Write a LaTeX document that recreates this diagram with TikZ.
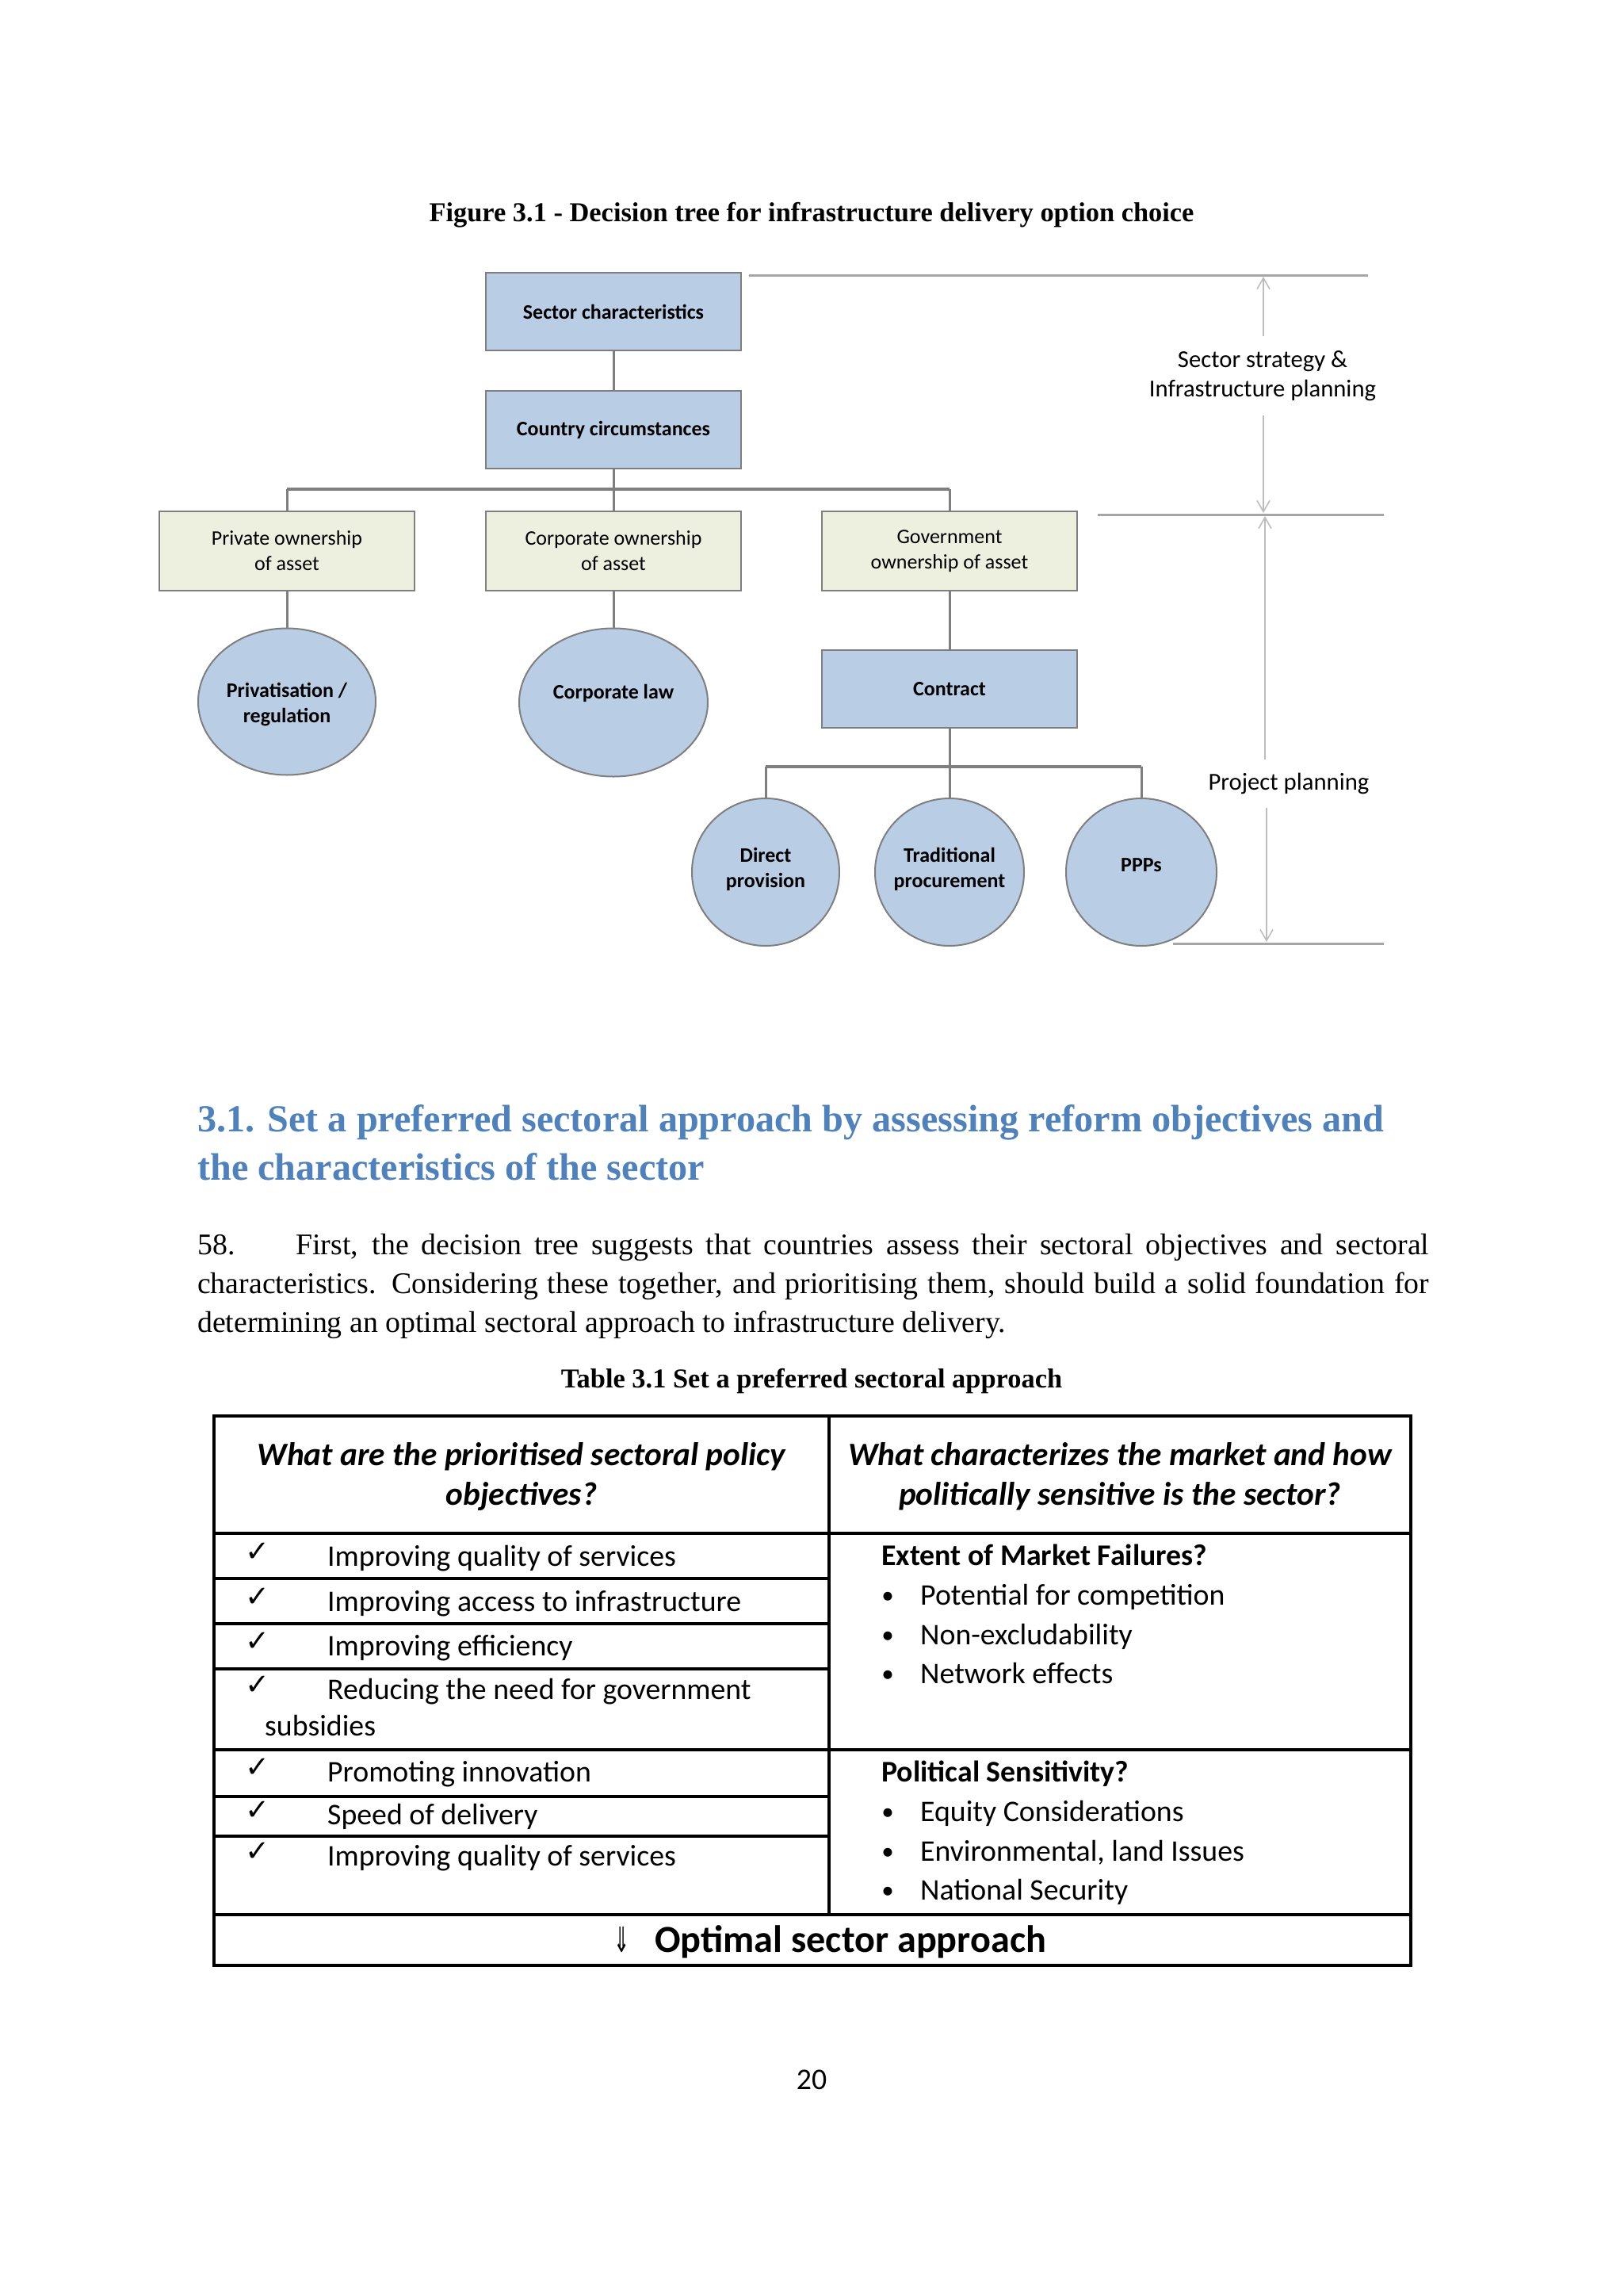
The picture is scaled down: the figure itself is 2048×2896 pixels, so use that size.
\documentclass[tikz,border=0pt]{standalone}
\usepackage{fontspec}
\usepackage{graphicx}
\setmainfont{Liberation Serif}
\newfontfamily\calfont{Carlito}
\newfontfamily\djfont{DejaVu Sans}
\usetikzlibrary{arrows.meta,shapes.geometric}
\definecolor{boxblue}{HTML}{B9CDE5}
\definecolor{boxgreen}{HTML}{EDEFDF}
\definecolor{edgegray}{HTML}{7F7F7F}
\definecolor{annogray}{HTML}{A6A6A6}
\definecolor{arrowgray}{HTML}{BDBDBD}
\definecolor{headblue}{HTML}{4F81BD}
\tikzset{
 treebox/.style={draw=edgegray, line width=2.5pt, minimum width=322pt, minimum height=98pt, inner sep=0pt, align=center, font=\calfont\fontsize{26}{32}\selectfont},
 bluebox/.style={treebox, fill=boxblue, font=\calfont\bfseries\fontsize{26}{32}\selectfont},
 greenbox/.style={treebox, fill=boxgreen, minimum height=100pt},
 oval/.style={ellipse, draw=edgegray, line width=2pt, fill=boxblue, inner sep=0pt},
 ovaltext/.style={font=\calfont\bfseries\fontsize{26}{32}\selectfont, align=center, inner sep=0pt},
 conn/.style={draw=edgegray, line width=3pt},
 treebar/.style={draw=edgegray, line width=4.5pt},
 annoline/.style={draw=annogray, line width=3pt},
 dimarrow/.style={draw=arrowgray, line width=1.6pt, -{Straight Barb[length=14pt,width=16pt]}},
 annotext/.style={font=\calfont\fontsize{30.7}{37}\selectfont, align=center, inner xsep=0pt},
 tline/.style={line width=4pt, draw=black},
 tcell/.style={font=\calfont\fontsize{37.8}{46}\selectfont, anchor=base west, inner sep=0pt},
 thead/.style={font=\calfont\bfseries\itshape\fontsize{41.3}{50}\selectfont, align=center, inner sep=0pt},
 tbold/.style={tcell, font=\calfont\bfseries\fontsize{37.8}{46}\selectfont},
 tcheck/.style={anchor=base west, inner sep=0pt, font=\djfont\fontsize{37}{42}\selectfont},
 tbullet/.style={anchor=base, inner sep=0pt, font=\calfont\fontsize{31}{36}\selectfont},
 bodytext/.style={font=\fontsize{37.8}{46}\selectfont, anchor=base west, inner sep=0pt},
 headtext/.style={font=\bfseries\fontsize{48.2}{59}\selectfont, text=headblue, anchor=base west, inner sep=0pt},
 captext/.style={font=\bfseries\fontsize{34.4}{40}\selectfont, anchor=base, inner sep=0pt}
}
\begin{document}
\begin{tikzpicture}[x=1pt,y=-1pt]
\useasboundingbox[fill=white] (0,0) rectangle (2048,2896);

% title
\node[captext] (title) at (1024,279) {Figure 3.1 - Decision tree for infrastructure delivery option choice};

% tree nodes
\node[bluebox] (sc) at (774,393) {Sector characteristics};
\node[bluebox] (cc) at (774,542) {Country circumstances};
\node[greenbox] (po) at (362,695) {Private ownership\\of asset};
\node[greenbox] (co) at (774,695) {Corporate ownership\\of asset};
\node[greenbox] (go) at (1198,695) {Government\\ownership of asset};
\node[oval, minimum width=224pt, minimum height=185pt, label={[ovaltext, yshift=-4pt]center:Privatisation /\\regulation}] (pr) at (362,885) {};
\node[oval, minimum width=238pt, minimum height=187pt, label={[ovaltext, yshift=12pt]center:Corporate law}] (cl) at (774,886) {};
\node[bluebox] (ct) at (1198,869) {Contract};
\node[oval, minimum width=186pt, minimum height=186pt, label={[ovaltext, yshift=4pt]center:Direct\\provision}] (dp) at (966,1100) {};
\node[oval, minimum width=188pt, minimum height=186pt, label={[ovaltext, yshift=4pt]center:Traditional\\procurement}] (tp) at (1198,1100) {};
\node[oval, minimum width=190pt, minimum height=186pt, label={[ovaltext, yshift=9pt]center:PPPs}] (pp) at (1440,1100) {};

% tree connectors
\coordinate (b1) at (0,617);
\coordinate (b2) at (0,967);
\draw[conn] (sc.south) -- (cc.north);
\draw[conn] (cc.south) -- (co.north);
\draw[treebar] (po.north |- b1) -- (go.north |- b1);
\draw[conn] (po.north |- b1) -- (po.north);
\draw[conn] (go.north |- b1) -- (go.north);
\draw[conn] (po.south) -- (pr.north);
\draw[conn] (co.south) -- (cl.north);
\draw[conn] (go.south) -- (ct.north);
\draw[conn] (ct.south) -- (tp.north);
\draw[treebar] (dp.north |- b2) -- (pp.north |- b2);
\draw[conn] (dp.north |- b2) -- (dp.north);
\draw[conn] (pp.north |- b2) -- (pp.north);

% annotations on the right
\coordinate (t1) at (945,347);
\coordinate (t2) at (1726,347);
\coordinate (m1) at (1385,649);
\coordinate (m2) at (1746,649);
\coordinate (u1) at (1480,1190);
\coordinate (u2) at (1746,1190);
\draw[annoline] (t1) -- (t2);
\draw[annoline] (m1) -- (m2);
\draw[annoline] (u1) -- (u2);
\node[annotext, inner ysep=18pt] (ss) at (1593,474) {Sector strategy \&\\Infrastructure planning};
\node[annotext, inner ysep=17pt] (pj) at (1626,988) {Project planning};
\coordinate (a1) at (1594,349);
\coordinate (a2) at (1594,647);
\coordinate (a3) at (1596,651);
\coordinate (a4) at (1598,1188);
\draw[dimarrow] (ss.north -| a1) -- (a1);
\draw[dimarrow] (ss.south -| a2) -- (a2);
\draw[dimarrow] (pj.north -| a3) -- (a3);
\draw[dimarrow] (pj.south -| a4) -- (a4);

% heading
\node[headtext] (h1) at (249,1427) {3.1. Set a preferred sectoral approach by assessing reform objectives and};
\node[headtext] (h2) at (249,1488) {the characteristics of the sector};

% body
\node[bodytext] (p0) at (249,1582) {58.};
\node[bodytext] (p1) at (373,1582) {\makebox[1430pt][s]{First, the decision tree suggests that countries assess their sectoral objectives and sectoral}};
\node[bodytext] (p2) at (249,1631) {\makebox[1554pt][s]{characteristics. Considering these together, and prioritising them, should build a solid foundation for}};
\node[bodytext] (p3) at (249,1680) {determining an optimal sectoral approach to infrastructure delivery.};

% table caption
\node[captext] (tcap) at (1024,1750) {Table 3.1 Set a preferred sectoral approach};

% table grid
\draw[tline] (270,1786) rectangle (1780,2479);
\draw[tline] (270,1934) -- (1780,1934);
\draw[tline] (270,2207) -- (1780,2207);
\draw[tline] (270,2415) -- (1780,2415);
\draw[tline] (1046,1786) -- (1046,2415);
\foreach \yy in {1991,2048,2105,2266,2316} \draw[tline] (270,\yy) -- (1046,\yy);

% table header
\node[thead] (hl) at (658,1862) {What are the prioritised sectoral policy\\objectives?};
\node[thead] (hr) at (1413,1862) {What characterizes the market and how\\politically sensitive is the sector?};

% left column
\foreach \yy/\tx [count=\i] in {1975/Improving quality of services,2032/Improving access to infrastructure,2088/Improving efficiency,2143/Reducing the need for government,2247/Promoting innovation,2301/Speed of delivery,2353/Improving quality of services}{
  \node[tcheck] (ck\i) at (309,\yy-6) {✓};
  \node[tcell] (lt\i) at (413,\yy) {\tx};
}
\node[tcell] (subs) at (334,2189) {subsidies};

% right column
\node[tbold] (mf) at (1112,1974) {Extent of Market Failures?};
\node[tbold] (ps) at (1112,2247) {Political Sensitivity?};
\foreach \yy/\tx [count=\i] in {2024/Potential for competition,2074/Non-excludability,2123/Network effects,2297/Equity Considerations,2347/{Environmental, land Issues},2396/National Security}{
  \node[tbullet] (bu\i) at (1120,\yy-2) {•};
  \node[tcell] (rt\i) at (1161,\yy) {\tx};
}

% bottom row
\node[anchor=base west, inner sep=0pt, font=\djfont\fontsize{44}{50}\selectfont] (dar) at (774,2462) {\scalebox{0.55}[1]{⇓}};
\node[anchor=base west, inner sep=0pt, font=\calfont\bfseries\fontsize{48.2}{56}\selectfont] (opt) at (826,2462) {Optimal sector approach};

% page number
\node[anchor=base, inner sep=0pt, font=\calfont\fontsize{37.8}{44}\selectfont] (pg) at (1024,2635) {20};
\end{tikzpicture}
\end{document}
